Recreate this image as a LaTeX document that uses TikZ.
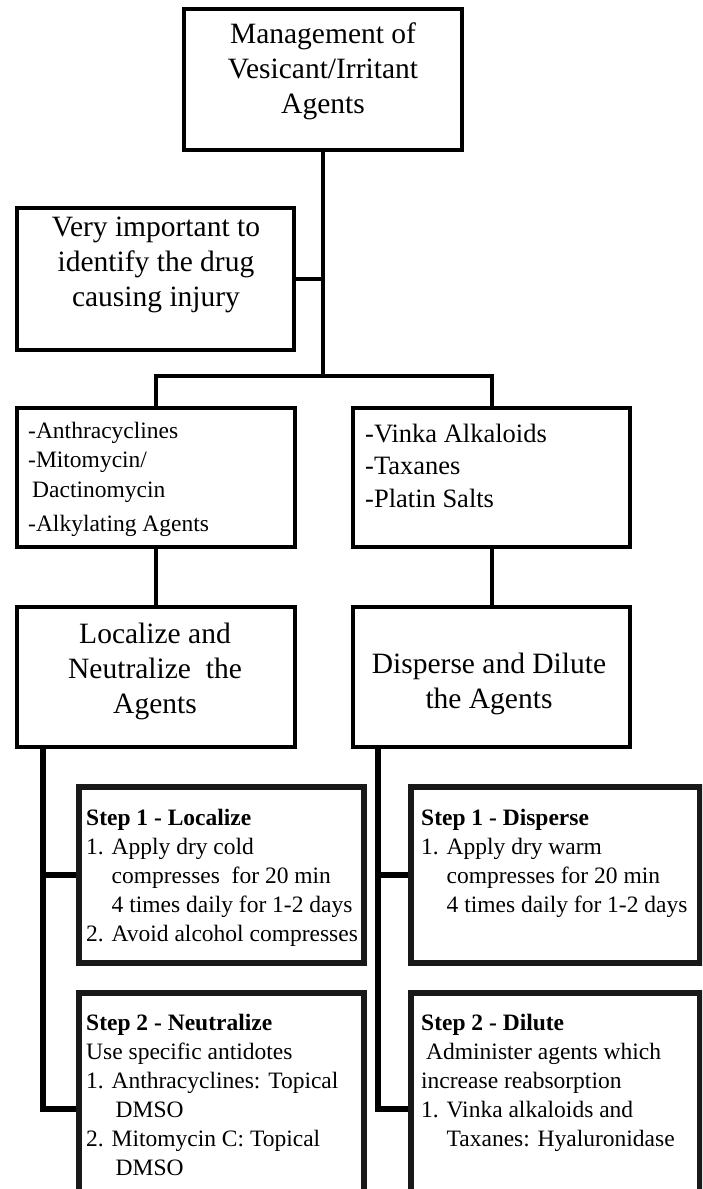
\documentclass[tikz,border=0pt]{standalone}
\usepackage{fontspec}
\setmainfont{Liberation Serif}
\begin{document}
\begin{tikzpicture}[x=1pt,y=-1pt,
  bx/.style={draw=black, line width=4.5pt, inner sep=0pt, rectangle},
  sbx/.style={draw=black!90, line width=6pt, inner sep=0pt, rectangle},
  ttl/.style={font=\fontsize{29.5}{35}\selectfont, align=center, inner sep=0pt, anchor=north},
  lst/.style={font=\fontsize{23.5}{29}\selectfont, align=left, inner sep=0pt, anchor=north west},
  ln/.style={line width=4pt},
  lnb/.style={line width=5.5pt}]
\useasboundingbox (0,0) rectangle (702,1189);
\fill[white] (0,0) rectangle (702,1189);
\clip (0,0) rectangle (702,1189);
% boxes
\node[bx, minimum width=278, minimum height=141] (top) at (323,79.5) {};
\node[bx, minimum width=277, minimum height=142] (imp) at (155.5,279) {};
\node[bx, minimum width=278, minimum height=139] (drugL) at (156,477.5) {};
\node[bx, minimum width=277, minimum height=139] (drugR) at (491.5,477.5) {};
\node[bx, minimum width=278, minimum height=140] (locL) at (156,677) {};
\node[bx, minimum width=277, minimum height=140] (disR) at (491.5,677) {};
\node[sbx, minimum width=285, minimum height=176] (s1L) at (221.5,875) {};
\node[sbx, minimum width=289, minimum height=176] (s1R) at (555.5,875) {};
\node[sbx, minimum width=285, minimum height=232] (s2L) at (221.5,1109) {};
\node[sbx, minimum width=289, minimum height=232] (s2R) at (555.5,1109) {};
% texts
\node[ttl] (topt) at (323,23) {Management of\\Vesicant/Irritant\\Agents};
\node[ttl] (impt) at (156,217) {Very important to\\identify the drug\\causing injury};
\node[lst, font=\fontsize{23.5}{29.5}\selectfont] (drugLt) at (28,421.5) {-Anthracyclines\\-Mitomycin/\\\hspace*{4pt}Dactinomycin\\[5pt]-Alkylating Agents};
\node[lst, font=\fontsize{26.5}{32.5}\selectfont] (drugRt) at (365,423.5) {-Vinka Alkaloids\\-Taxanes\\-Platin Salts};
\node[ttl] (locLt) at (155,622.5) {Localize and\\Neutralize\ \ the\\Agents};
\node[ttl] (disRt) at (489,652.5) {Disperse and Dilute\\the Agents};
\node[lst] (s1Lt) at (86,808.5) {\textbf{Step 1 - Localize}\\1. Apply dry cold\\\phantom{1. }compresses\ \ for 20 min\\\phantom{1. }4 times daily for 1-2 days\\2. Avoid alcohol compresses};
\node[lst] (s1Rt) at (421,808.5) {\textbf{Step 1 - Disperse}\\1. Apply dry warm\\\phantom{1. }compresses for 20 min\\\phantom{1. }4 times daily for 1-2 days};
\node[lst] (s2Lt) at (86,1013.5) {\textbf{Step 2 - Neutralize}\\Use specific antidotes\\1. Anthracyclines: Topical\\\phantom{1. }\hspace*{4pt}DMSO\\2. Mitomycin C: Topical\\\phantom{1. }\hspace*{4pt}DMSO};
\node[lst] (s2Rt) at (421,1013.5) {\textbf{Step 2 - Dilute}\\\hspace*{5pt}Administer agents which\\increase reabsorption\\1. Vinka alkaloids and\\\phantom{1. }Taxanes: Hyaluronidase};
% connectors
\coordinate (barL) at ([yshift=30pt]drugL.north);
\coordinate (barR) at ([yshift=30pt]drugR.north);
\draw[ln] (top.south) -- (top.south |- barL);
\draw[ln] (imp.east) -- (imp.east -| top.south);
\draw[ln] (drugL.north) -- (barL) -- (barR) -- (drugR.north);
\draw[ln] (drugL.south) -- (locL.north);
\draw[ln] (drugR.south) -- (disR.north);
\coordinate (jL) at ([xshift=28pt]locL.south west);
\coordinate (jR) at ([xshift=27pt]disR.south west);
\draw[lnb] (jL) |- (s2L.west);
\draw[lnb] (s1L.west) -- (s1L.west -| jL);
\draw[lnb] (jR) |- (s2R.west);
\draw[lnb] (s1R.west) -- (s1R.west -| jR);
\end{tikzpicture}
\end{document}
